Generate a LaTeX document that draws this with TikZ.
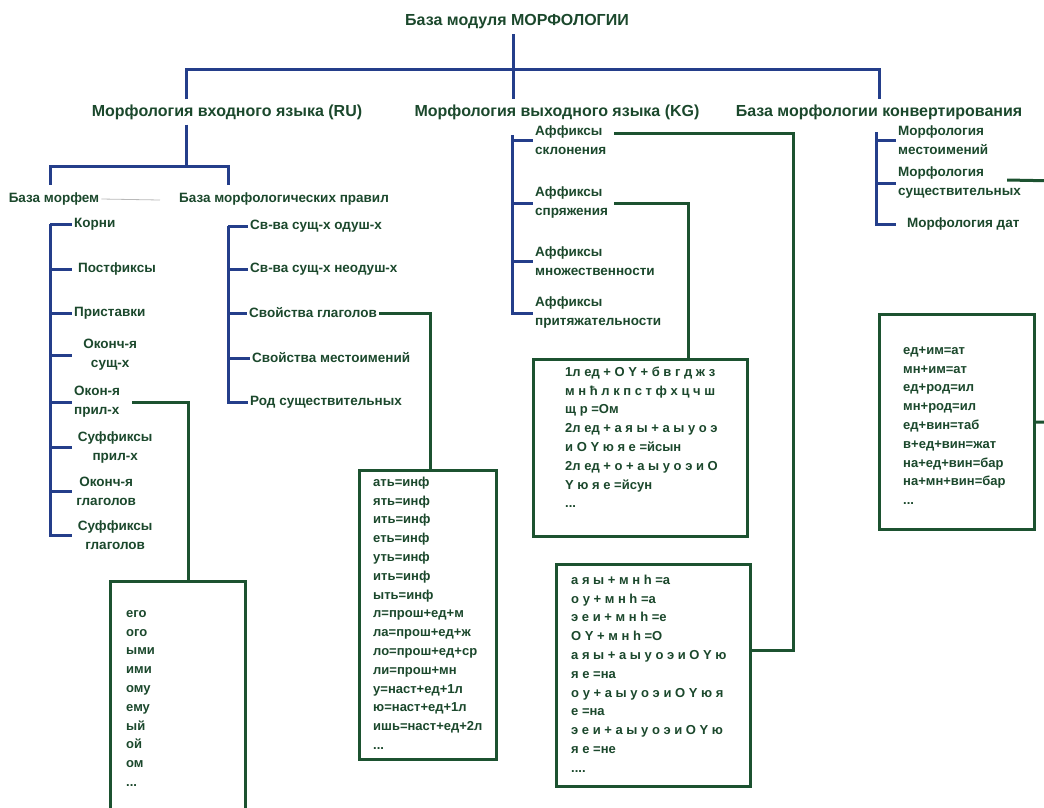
\documentclass[tikz,border=0pt]{standalone}
\usepackage{fontspec}
\setmainfont{Liberation Sans}
\usetikzlibrary{positioning,calc}
\definecolor{treeblue}{RGB}{36,62,138}
\definecolor{darkgreen}{RGB}{27,72,44}
\definecolor{linegreen}{RGB}{28,82,48}
\tikzset{
  treeline/.style={draw=treeblue, line width=3pt},
  boxline/.style={draw=linegreen, line width=3pt},
  head/.style={
    font=\fontsize{16}{19}\selectfont\bfseries,
    text=darkgreen,
    inner sep=5pt},
  sub/.style={
    font=\fontsize{13.5}{19}\selectfont\bfseries,
    text=darkgreen,
    inner xsep=2pt, inner ysep=8pt},
  leaf/.style={
    anchor=west,
    align=left,
    font=\fontsize{13.5}{19}\selectfont\bfseries,
    text=darkgreen,
    inner xsep=2pt, inner ysep=1pt},
  rulebox/.style={
    rectangle,
    draw=linegreen, line width=3pt,
    fill=white,
    inner sep=0pt},
  boxtext/.style={
    anchor=north west,
    align=left,
    font=\fontsize{13}{18.8}\selectfont\bfseries,
    text=darkgreen,
    inner sep=0pt},
}

\begin{document}
\begin{tikzpicture}[x=1pt,y=-1pt]
  \useasboundingbox (0,0) rectangle (1044,807);
  \clip (0,0) rectangle (1044,807);
  % headings
  \node[head] (title) at (517,22) {База модуля МОРФОЛОГИИ};
  \node[head] (ru) at (227,112) {Морфология входного языка (RU)};
  \node[head] (kg) at (557,112) {Морфология выходного языка (KG)};
  \node[head] (conv) at (879,112) {База морфологии конвертирования};
  \node[sub] (morfem) at (54,199) {База морфем};
  \node[sub] (rules) at (284,199) {База морфологических правил};
  % bracket corners
  \coordinate (hub) at (513,69);
  \coordinate (ruTop) at (186,69);
  \coordinate (ruHub) at (186,166);
  \coordinate (mSpine) at (50,224);
  \coordinate (pSpine) at (228,226);
  \coordinate (kgSpine) at (512,135);
  \coordinate (cvSpine) at (876,132);
  %% morphemes
  \node[leaf] (korni) at (72,224) {Корни};
  \node[leaf] (postf) at (72,269) {\hspace*{4pt}Постфиксы};
  \node[leaf] (prist) at (72,313) {Приставки};
  \node[leaf, align=center, text width=72pt] (okSusch) at (72,355) {Оконч-я\\сущ-х};
  \node[leaf] (okPril) at (72,402) {Окон-я\\прил-х};
  \node[leaf, align=center, text width=82pt] (sufPril) at (72,447) {Суффиксы\\прил-х};
  \node[leaf, align=center, text width=64pt] (okGlag) at (72,491) {Оконч-я\\глаголов};
  \node[leaf, align=center, text width=82pt] (sufGlag) at (72,535) {Суффиксы\\глаголов};
  %% rules
  \node[leaf] (svOdush) at (248,226) {Св-ва сущ-х одуш-х};
  \node[leaf] (svNeodush) at (248,269) {Св-ва сущ-х неодуш-х};
  \node[leaf] (svGlag) at (247,313) {Свойства глаголов};
  \node[leaf] (svMest) at (250,358) {Свойства местоимений};
  \node[leaf] (rodSusch) at (248,402) {Род существительных};
  %% output language
  \node[leaf] (afSkl) at (533,140) {Аффиксы\\склонения};
  \node[leaf] (afSpr) at (533,203) {Аффиксы\\спряжения};
  \node[leaf] (afMnozh) at (533,261) {Аффиксы\\множественности};
  \node[leaf] (afPrit) at (533,313) {Аффиксы\\притяжательности};
  %% conversion
  \node[leaf] (mMest) at (896,140) {Морфология\\местоимений};
  \node[leaf] (mSusch) at (896,183) {Морфология\\существительных};
  \node[leaf] (mDat) at (896,224) {\hspace*{9pt}Морфология дат};
  % tree lines
  \draw[treeline] (title.south -| hub) -- (hub |- kg.north);
  \draw[treeline] (ruTop |- ru.north) |- (hub) -| (conv.north);
  \draw[treeline] (ruTop |- ru.south) -- (ruHub);
  \draw[treeline] (morfem.north -| mSpine) |- (ruHub) -| (rules.north -| pSpine);
  \foreach \n in {korni,postf,prist,okSusch,okPril,sufPril,okGlag,sufGlag}
    \draw[treeline] (mSpine) |- (\n.west);
  \foreach \n in {svOdush,svNeodush,svGlag,svMest,rodSusch}
    \draw[treeline] (pSpine) |- (\n.west);
  \foreach \n in {afSkl,afSpr,afMnozh,afPrit}
    \draw[treeline] (kgSpine) |- (\n.west);
  \foreach \n in {mMest,mSusch,mDat}
    \draw[treeline] (cvSpine) |- (\n.west);
  \coordinate (grayEnd) at (160,200);
  \draw[gray!55, line width=0.8pt] (morfem.east) -- (grayEnd);
  % boxes
  \node[rulebox, minimum width=135pt, minimum height=240pt, anchor=north west] (boxPril) at (109,580) {};
  \node[rulebox, minimum width=137pt, minimum height=289pt, anchor=north west] (boxGlag) at (358,469) {};
  \node[rulebox, minimum width=214pt, minimum height=177pt, anchor=north west] (boxSpr) at (532,358) {};
  \node[rulebox, minimum width=194pt, minimum height=222pt, anchor=north west] (boxSkl) at (555,563) {};
  \node[rulebox, minimum width=155pt, minimum height=215pt, anchor=north west] (boxConv) at (878,313) {};
  \node[boxtext] (prilList) at ([shift={(17,24)}]boxPril.north west)
    {\strut его\\ого\\ыми\\ими\\ому\\ему\\ый\\ой\\ом\\...};
  \node[boxtext] (glagList) at ([shift={(15,4)}]boxGlag.north west)
    {\strut ать=инф\\ять=инф\\ить=инф\\еть=инф\\уть=инф\\ить=инф\\ыть=инф\\л=прош+ед+м\\ла=прош+ед+ж\\ло=прош+ед+ср\\ли=прош+мн\\у=наст+ед+1л\\ю=наст+ед+1л\\ишь=наст+ед+2л\\...};
  \node[boxtext] (sprList) at ([shift={(33,5)}]boxSpr.north west)
    {\strut 1л ед + O Y + б в г д ж з\\м н ħ л к п с т ф х ц ч ш\\щ р =Ом\\2л ед + а я ы + а ы у о э\\и O Y ю я е =йсын\\2л ед + о + а ы у о э и O\\Y ю я е =йсун\\...};
  \node[boxtext] (sklList) at ([shift={(16,8)}]boxSkl.north west)
    {\strut а я ы + м н h =а\\о у + м н h =а\\э е и + м н h =е\\O Y + м н h =O\\а я ы + а ы у о э и O Y ю\\я е =на\\о у + а ы у о э и O Y ю я\\е =на\\э е и + а ы у о э и O Y ю\\я е =не\\....};
  \node[boxtext] (convList) at ([shift={(25,28)}]boxConv.north west)
    {\strut ед+им=ат\\мн+им=ат\\ед+род=ил\\мн+род=ил\\ед+вин=таб\\в+ед+вин=жат\\на+ед+вин=бар\\на+мн+вин=бар\\...};
  % green links
  \coordinate (sklTurn) at (793,650);
  \coordinate (convOut) at (1060,181);
  \draw[boxline] ([xshift=10]okPril.east) -| ([xshift=10]boxPril.north);
  \draw[boxline] (svGlag.east) -| ([xshift=2]boxGlag.north);
  \draw[boxline] ([xshift=4]afSpr.east) -| ([xshift=48]boxSpr.north);
  \draw[boxline] ([shift={(6,-7)}]afSkl.east) -| (sklTurn) -- (sklTurn -| boxSkl.east);
  \draw[boxline] ([shift={(-16,-3)}]mSusch.east) -- (convOut) |- (boxConv.east);
\end{tikzpicture}
\end{document}
